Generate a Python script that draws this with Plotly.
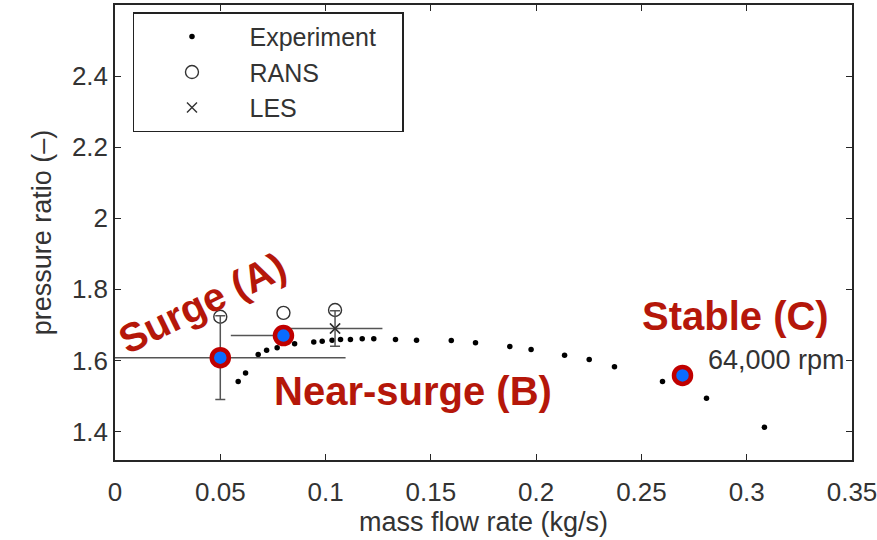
import plotly.graph_objects as go

# ---------------- data ----------------
exp_x = [0.0585, 0.062, 0.068, 0.072, 0.077, 0.0853, 0.0944, 0.0984, 0.1031, 0.1071,
         0.1118, 0.1174, 0.1229, 0.1332, 0.1432, 0.1597, 0.1712, 0.1875, 0.1976, 0.2135,
         0.2252, 0.2372, 0.2600, 0.2809, 0.3084]
exp_y = [1.541, 1.565, 1.617, 1.629, 1.636, 1.647, 1.652, 1.654, 1.657, 1.659,
         1.659, 1.661, 1.661, 1.659, 1.657, 1.656, 1.650, 1.639, 1.631, 1.615,
         1.603, 1.582, 1.541, 1.494, 1.412]

rans_x = [0.050, 0.080, 0.1045]
rans_y = [1.723, 1.734, 1.742]

les_x = [0.050, 0.080, 0.1045]
les_y = [1.608, 1.670, 1.690]
les_xerr_plus = [0.0595, 0.0, 0.0225]
les_xerr_minus = [0.0595, 0.025, 0.0225]
les_yerr = [0.118, 0.0, 0.05]

op_x = [0.050, 0.080, 0.2695]
op_y = [1.608, 1.670, 1.558]

labels = ["Surge (A)", "Near-surge (B)", "Stable (C)"]
label_x = [0.0411, 0.1415, 0.2945]
label_y = [1.763, 1.513, 1.724]
label_angle = [-26, 0, 0]

speed_text = "64,000 rpm"
speed_pos = (0.3140, 1.600)

x_ticks = [0, 0.05, 0.1, 0.15, 0.2, 0.25, 0.3, 0.35]
x_ticktext = ["0", "0.05", "0.1", "0.15", "0.2", "0.25", "0.3", "0.35"]
y_ticks = [1.4, 1.6, 1.8, 2.0, 2.2, 2.4]
y_ticktext = ["1.4", "1.6", "1.8", "2", "2.2", "2.4"]

FONT = "Liberation Sans, Arial, sans-serif"
GREY = "#262626"
RED = "#B5170A"
PAD = "\u00a0" * 3

fig = go.Figure()

# Experiment
fig.add_trace(go.Scatter(
    x=exp_x, y=exp_y, mode="markers",
    marker=dict(symbol="circle", size=5.5, color="black"),
    name="Experiment" + PAD, legendrank=1,
))

# RANS
fig.add_trace(go.Scatter(
    x=rans_x, y=rans_y, mode="markers",
    marker=dict(symbol="circle-open", size=13, line=dict(width=1.4, color="#333333"), color="#333333"),
    name="RANS", legendrank=2,
))

# LES with error bars
fig.add_trace(go.Scatter(
    x=les_x, y=les_y, mode="markers",
    marker=dict(symbol="x-thin-open", size=10, line=dict(width=1.4, color="#333333"), color="#333333"),
    error_x=dict(type="data", array=les_xerr_plus, arrayminus=les_xerr_minus,
                 symmetric=False, color="#555555", thickness=1.5, width=0),
    name="LES", showlegend=False,
))
fig.add_trace(go.Scatter(
    x=les_x, y=les_y, mode="markers",
    marker=dict(symbol="x-thin-open", size=10, line=dict(width=1.4, color="#333333"), color="#333333"),
    error_y=dict(type="data", array=les_yerr, color="#555555", thickness=1.5, width=5),
    name="LES", showlegend=True, legendrank=3,
))

# Operating points
fig.add_trace(go.Scatter(
    x=op_x, y=op_y, mode="markers",
    marker=dict(symbol="circle", size=17, color="#0A6CFF", line=dict(width=4.5, color="#C00000")),
    showlegend=False, hoverinfo="skip",
))

for t, lx, ly, ang in zip(labels, label_x, label_y, label_angle):
    fig.add_annotation(x=lx, y=ly, xref="x", yref="y", text=t, showarrow=False,
                       textangle=ang,
                       font=dict(family=FONT, size=40, color=RED, weight="bold"))

fig.add_annotation(x=speed_pos[0], y=speed_pos[1], xref="x", yref="y", text=speed_text,
                   showarrow=False, font=dict(family=FONT, size=27, color="#333333"))

axis_common = dict(showline=True, linecolor=GREY, linewidth=1.5, mirror="ticks",
                   ticks="inside", ticklen=6, tickwidth=1, tickcolor=GREY,
                   showgrid=False, zeroline=False, ticklabeloverflow="allow",
                   automargin=False,
                   tickfont=dict(family=FONT, size=26, color="#333333"))

fig.update_xaxes(range=[0, 0.35], tickvals=x_ticks, ticktext=x_ticktext, ticklabelstandoff=8,
                 title=dict(text="mass flow rate (kg/s)", font=dict(family=FONT, size=27, color="#333333"), standoff=4),
                 **axis_common)
fig.update_yaxes(range=[1.32, 2.6], tickvals=y_ticks, ticktext=y_ticktext,
                 title=dict(text="pressure ratio (\u2013)", font=dict(family=FONT, size=27, color="#333333"), standoff=12),
                 **axis_common)

fig.update_layout(
    width=877, height=540,
    margin=dict(l=115, r=25, t=5, b=80),
    paper_bgcolor="white", plot_bgcolor="white",
    legend=dict(x=0.0244, y=0.984, xanchor="left", yanchor="top",
                bordercolor="#222222", borderwidth=1.5, bgcolor="white",
                font=dict(family=FONT, size=25, color="#333333"),
                itemwidth=105, traceorder="normal", tracegroupgap=0),
    showlegend=True,
)

fig.write_html("out.html")
